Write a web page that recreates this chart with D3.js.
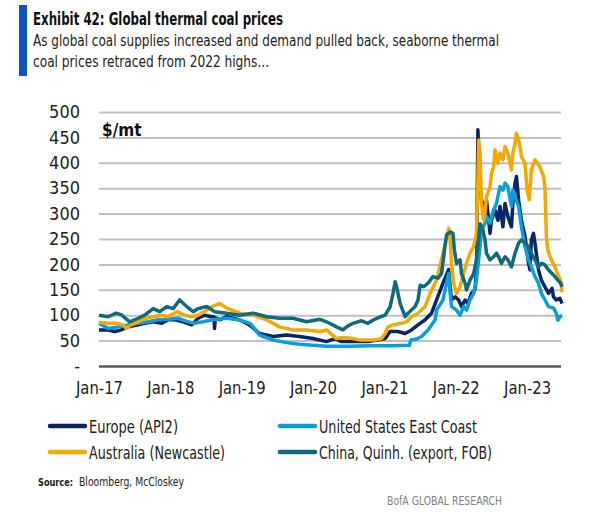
<!DOCTYPE html>
<html lang="en">
<head>
  <meta charset="UTF-8">
  <title>Global thermal coal prices</title>
  <script src="https://cdnjs.cloudflare.com/ajax/libs/d3/7.8.5/d3.min.js"></script>
  <style>
    body { margin: 0; background: #fff; }
    svg { display: block; font-family: "Liberation Sans Narrow", "DejaVu Sans Condensed", "Open Sans", sans-serif; }
  </style>
</head>
<body>
  <svg id="chart" width="597" height="521"></svg>
  <script>
    // values: [decimal year, $/mt]
    const europe = [[2017.00,71],[2017.13,71],[2017.22,68],[2017.31,71],[2017.41,77],[2017.55,81],[2017.64,84],[2017.76,87],[2017.88,84],[2017.97,91],[2018.06,91],[2018.18,87],[2018.30,81],[2018.39,94],[2018.48,100],[2018.58,97],[2018.61,97],[2018.62,74],[2018.63,95],[2018.69,91],[2018.79,97],[2018.97,91],[2019.11,81],[2019.25,64],[2019.44,58],[2019.63,61],[2019.81,58],[2020.00,54],[2020.19,48],[2020.31,54],[2020.40,48],[2020.54,48],[2020.77,48],[2020.91,51],[2021.01,54],[2021.08,68],[2021.19,68],[2021.29,64],[2021.38,71],[2021.47,81],[2021.57,91],[2021.66,104],[2021.73,130],[2021.82,163],[2021.90,190],[2021.92,156],[2021.94,130],[2021.99,136],[2022.04,130],[2022.08,117],[2022.13,130],[2022.17,123],[2022.22,143],[2022.27,150],[2022.29,189],[2022.31,465],[2022.34,353],[2022.36,327],[2022.41,307],[2022.43,327],[2022.48,261],[2022.50,287],[2022.55,307],[2022.59,287],[2022.62,314],[2022.66,274],[2022.69,320],[2022.73,294],[2022.78,274],[2022.80,320],[2022.83,360],[2022.85,373],[2022.88,327],[2022.92,287],[2022.97,255],[2023.02,202],[2023.04,189],[2023.06,248],[2023.09,261],[2023.11,242],[2023.16,189],[2023.20,169],[2023.25,156],[2023.30,143],[2023.35,153],[2023.37,136],[2023.41,130],[2023.46,133],[2023.49,123]];

    const usEastCoast = [[2017.00,84],[2017.13,74],[2017.27,77],[2017.41,81],[2017.55,84],[2017.69,87],[2017.83,91],[2017.97,92],[2018.11,94],[2018.25,87],[2018.34,84],[2018.46,87],[2018.59,91],[2018.79,94],[2018.95,91],[2019.12,84],[2019.25,61],[2019.44,51],[2019.63,46],[2019.81,43],[2020.00,41],[2020.19,39],[2020.50,39],[2020.80,40],[2021.10,40],[2021.35,41],[2021.37,51],[2021.45,53],[2021.52,58],[2021.61,71],[2021.71,91],[2021.73,110],[2021.82,130],[2021.90,182],[2021.92,143],[2021.94,117],[2022.01,110],[2022.06,100],[2022.11,117],[2022.15,110],[2022.20,130],[2022.25,143],[2022.29,169],[2022.33,222],[2022.36,268],[2022.41,281],[2022.43,294],[2022.48,281],[2022.53,307],[2022.57,320],[2022.62,353],[2022.66,346],[2022.69,360],[2022.73,353],[2022.78,314],[2022.80,346],[2022.83,333],[2022.88,314],[2022.92,274],[2022.97,235],[2023.02,209],[2023.06,195],[2023.11,176],[2023.16,163],[2023.20,143],[2023.25,130],[2023.30,117],[2023.37,114],[2023.41,104],[2023.43,90],[2023.46,97],[2023.49,100]];

    const australia = [[2017.00,86],[2017.13,84],[2017.24,84],[2017.34,81],[2017.38,74],[2017.45,81],[2017.55,87],[2017.66,94],[2017.76,97],[2017.88,100],[2017.97,97],[2018.09,107],[2018.20,100],[2018.30,97],[2018.39,100],[2018.48,107],[2018.58,117],[2018.69,123],[2018.79,114],[2018.97,104],[2019.16,100],[2019.35,91],[2019.53,77],[2019.72,71],[2019.91,71],[2020.10,68],[2020.19,71],[2020.33,54],[2020.42,56],[2020.56,54],[2020.66,51],[2020.75,51],[2020.87,51],[2020.96,54],[2021.01,64],[2021.05,77],[2021.12,81],[2021.24,84],[2021.31,87],[2021.38,97],[2021.47,104],[2021.57,117],[2021.64,143],[2021.73,169],[2021.82,222],[2021.90,271],[2021.92,248],[2021.94,202],[2021.97,163],[2022.01,143],[2022.06,156],[2022.11,182],[2022.15,202],[2022.20,222],[2022.25,235],[2022.29,261],[2022.31,366],[2022.32,445],[2022.34,419],[2022.36,320],[2022.39,287],[2022.41,301],[2022.43,333],[2022.48,353],[2022.50,379],[2022.53,392],[2022.55,425],[2022.59,399],[2022.62,419],[2022.66,406],[2022.69,432],[2022.73,419],[2022.78,386],[2022.80,419],[2022.83,438],[2022.85,458],[2022.88,445],[2022.90,432],[2022.92,412],[2022.97,399],[2023.00,346],[2023.03,327],[2023.06,386],[2023.11,406],[2023.18,392],[2023.23,373],[2023.25,353],[2023.27,255],[2023.29,228],[2023.34,209],[2023.39,195],[2023.43,180],[2023.47,169],[2023.49,145]];

    const china = [[2017.00,100],[2017.13,97],[2017.24,104],[2017.31,101],[2017.43,87],[2017.55,94],[2017.64,100],[2017.76,113],[2017.85,107],[2017.95,117],[2018.04,113],[2018.13,130],[2018.23,117],[2018.32,107],[2018.39,113],[2018.51,117],[2018.62,107],[2018.79,104],[2018.97,100],[2019.16,104],[2019.35,97],[2019.53,94],[2019.72,94],[2019.91,87],[2020.10,92],[2020.19,87],[2020.33,77],[2020.42,71],[2020.48,78],[2020.56,84],[2020.68,89],[2020.77,84],[2020.85,91],[2020.95,97],[2021.01,100],[2021.08,117],[2021.12,143],[2021.15,166],[2021.17,156],[2021.22,123],[2021.29,97],[2021.33,104],[2021.43,117],[2021.47,130],[2021.50,159],[2021.55,156],[2021.61,163],[2021.68,176],[2021.75,173],[2021.80,182],[2021.85,238],[2021.87,258],[2021.92,264],[2021.96,261],[2021.98,228],[2022.01,202],[2022.06,209],[2022.08,182],[2022.13,163],[2022.15,150],[2022.20,169],[2022.25,182],[2022.29,209],[2022.34,280],[2022.38,268],[2022.41,248],[2022.43,222],[2022.48,209],[2022.53,215],[2022.57,222],[2022.60,215],[2022.64,202],[2022.69,215],[2022.73,209],[2022.78,195],[2022.83,222],[2022.88,242],[2022.92,248],[2022.97,242],[2023.02,235],[2023.06,222],[2023.11,209],[2023.16,195],[2023.20,202],[2023.25,199],[2023.30,189],[2023.35,182],[2023.39,176],[2023.43,169],[2023.47,163],[2023.49,156]];

    const seriesNames = ["Europe (API2)", "United States East Coast", "Australia (Newcastle)", "China, Quinh. (export, FOB)"];
    const seriesColors = ["#0b2466", "#0a9fdc", "#f4a900", "#0d6b7c"];
    const yTicks = [0, 50, 100, 150, 200, 250, 300, 350, 400, 450, 500];
    const xTickYears = [2017, 2018, 2019, 2020, 2021, 2022, 2023];

    const toDate = (y) => new Date(Date.UTC(Math.floor(y), 0, 1) + (y - Math.floor(y)) * 365.25 * 864e5);

    // the reference uses a narrow face; squeeze the installed one to the same width
    const squeeze = (sel, w) => sel.attr("textLength", w).attr("lengthAdjust", "spacingAndGlyphs");

    const plotLeft = 99, plotRight = 561, plotTop = 112, plotBottom = 366;

    const svg = d3.select("#chart");

    // header
    svg.append("rect").attr("x", 19).attr("y", 5).attr("width", 8).attr("height", 71).attr("fill", "#0b55c6");
    svg.append("text").attr("x", 33).attr("y", 25).attr("font-size", 17).attr("font-weight", "bold").attr("fill", "#111")
      .text("Exhibit 42: Global thermal coal prices")
      .call(squeeze, 250);
    svg.append("text").attr("x", 33).attr("y", 46).attr("font-size", 16).attr("fill", "#222")
      .text("As global coal supplies increased and demand pulled back, seaborne thermal")
      .call(squeeze, 466);
    svg.append("text").attr("x", 33).attr("y", 67).attr("font-size", 16).attr("fill", "#222")
      .text("coal prices retraced from 2022 highs...")
      .call(squeeze, 236);

    const xScale = d3.scaleUtc()
      .domain([toDate(2017), toDate(2023.475)])
      .range([plotLeft, plotRight]);

    const yScale = d3.scaleLinear()
      .domain([0, 500])
      .range([plotBottom, plotTop]);

    // gridlines + y labels
    const yAxis = d3.axisLeft(yScale)
      .tickValues(yTicks)
      .tickSize(-(plotRight - plotLeft))
      .tickPadding(19)
      .tickFormat(d => d === 0 ? "-" : d);

    const gy = svg.append("g")
      .attr("transform", "translate(" + plotLeft + ",0)")
      .call(yAxis);
    gy.select(".domain").remove();
    gy.selectAll(".tick line").attr("stroke", "#c0c0c0").attr("stroke-width", 2);
    gy.selectAll(".tick text").attr("font-size", 18).attr("fill", "#222");
    gy.selectAll(".tick").filter(d => d === 0).select("line").attr("stroke", "#5a5a5a").attr("stroke-width", 2.5);
    gy.attr("font-family", null);

    svg.append("text").attr("x", 102).attr("y", 136).attr("font-size", 17).attr("font-weight", "bold").attr("fill", "#111")
      .text("$/mt");

    // x labels
    const xAxis = d3.axisBottom(xScale)
      .tickValues(xTickYears.map(y => toDate(y)))
      .tickSize(0)
      .tickPadding(15)
      .tickFormat(d3.utcFormat("%b-%y"));

    const gx = svg.append("g")
      .attr("transform", "translate(0," + plotBottom + ")")
      .call(xAxis);
    gx.select(".domain").remove();
    gx.selectAll(".tick text").attr("font-size", 18).attr("fill", "#222").call(squeeze, 47);
    gx.attr("font-family", null);

    const line = d3.line()
      .x(d => xScale(toDate(d[0])))
      .y(d => yScale(d[1]));

    [europe, usEastCoast, australia, china].forEach((s, i) => {
      svg.append("path")
        .datum(s)
        .attr("fill", "none")
        .attr("stroke", seriesColors[i])
        .attr("stroke-width", 3.5)
        .attr("stroke-linejoin", "round")
        .attr("d", line);
    });

    // legend
    const legendPos = [[48, 426], [278, 426], [48, 452], [278, 452]];
    const legendTextW = [89, 158, 136, 173];
    const legend = svg.append("g");
    seriesNames.forEach((name, i) => {
      const [lx, ly] = legendPos[i];
      legend.append("line").attr("x1", lx + 2).attr("x2", lx + 37).attr("y1", ly).attr("y2", ly)
        .attr("stroke", seriesColors[i]).attr("stroke-width", 4.5).attr("stroke-linecap", "round");
      legend.append("text").attr("x", lx + 41).attr("y", ly + 7).attr("font-size", 18).attr("fill", "#222")
        .text(name)
        .call(squeeze, legendTextW[i]);
    });

    // footer
    svg.append("text").attr("x", 38).attr("y", 486).attr("font-size", 10.5).attr("font-weight", "bold").attr("fill", "#222")
      .text("Source:")
      .call(squeeze, 35);
    svg.append("text").attr("x", 79).attr("y", 486).attr("font-size", 12).attr("fill", "#222")
      .text("Bloomberg, McCloskey")
      .call(squeeze, 105);

    svg.append("text").attr("x", 387).attr("y", 505).attr("font-size", 13).attr("fill", "#808080")
      .text("BofA GLOBAL RESEARCH")
      .call(squeeze, 115);
  </script>
</body>
</html>
